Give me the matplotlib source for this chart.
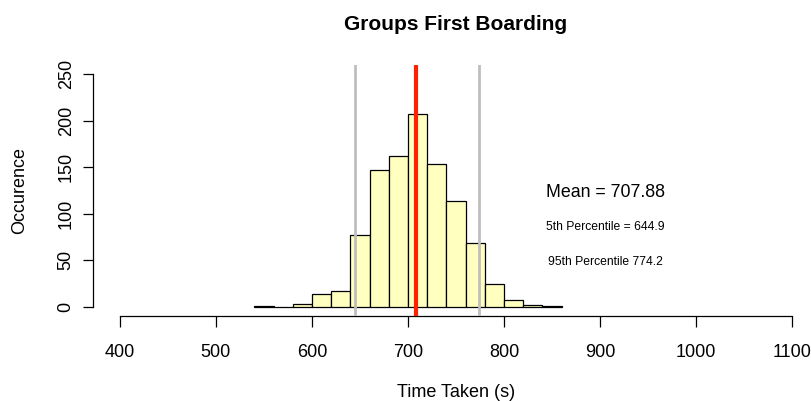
import numpy as np
import matplotlib
matplotlib.use("Agg")
from matplotlib import pyplot as plt

plt.rcParams['font.family'] = ['Liberation Sans', 'DejaVu Sans']

# boarding times, binned every 20 s
bin_edges = [540, 560, 580, 600, 620, 640, 660, 680, 700, 720, 740, 760, 780, 800, 820, 840, 860]
counts = [1, 0, 3, 14, 17, 77, 147, 162, 207, 153, 114, 69, 24, 7, 2, 1]

mean_time = 707.88
p5 = 644.9
p95 = 774.2

x_ticks = [400, 500, 600, 700, 800, 900, 1000, 1100]
y_ticks = [0, 50, 100, 150, 200, 250]

fig = plt.figure(figsize=(8.12, 4.01), dpi=100)
# plot region in pixels: x 93..819, y 65..316 (from top)
ax = fig.add_axes([93 / 812, (401 - 316) / 401, 726 / 812, 251 / 401])

edges = np.array(bin_edges)
ax.bar(edges[:-1], counts, width=np.diff(edges), align='edge',
       color='#ffffc0', edgecolor='black', linewidth=0.9, zorder=2)

ax.axvline(p5, color='#bebebe', lw=2, zorder=3)
ax.axvline(p95, color='#bebebe', lw=2, zorder=3)
ax.axvline(mean_time, color='#ff2200', lw=3, zorder=4)

ax.text(906, 123, 'Mean = %.2f' % mean_time, ha='center', va='center', fontsize=12.8)
ax.text(906, 86, '5th Percentile = %.1f' % p5, ha='center', va='center', fontsize=8.7)
ax.text(906, 48, '95th Percentile %.1f' % p95, ha='center', va='center', fontsize=8.7)

ax.set_xlim(372, 1128)
ax.set_ylim(-10, 260)

# R style axes: only the tick range is drawn, no box
for s in ['top', 'right']:
    ax.spines[s].set_visible(False)
ax.spines['bottom'].set_bounds(400, 1100)
ax.spines['left'].set_bounds(0, 250)
ax.spines['bottom'].set_linewidth(0.9)
ax.spines['left'].set_linewidth(0.9)
ax.set_xticks(x_ticks)
ax.set_yticks(y_ticks)
ax.set_yticklabels([str(v) for v in y_ticks], rotation=90, va='center')
ax.tick_params(axis='x', length=8, width=0.9, labelsize=13, pad=12)
ax.tick_params(axis='y', length=7.2, width=0.9, labelsize=13, pad=6)

ax.set_xlabel('Time Taken (s)', fontsize=13, labelpad=17)
ax.set_ylabel('Occurence', fontsize=13, labelpad=21)
ax.set_title('Groups First Boarding', fontsize=15, fontweight='bold', pad=25)

fig.savefig('out.png', dpi=100)
